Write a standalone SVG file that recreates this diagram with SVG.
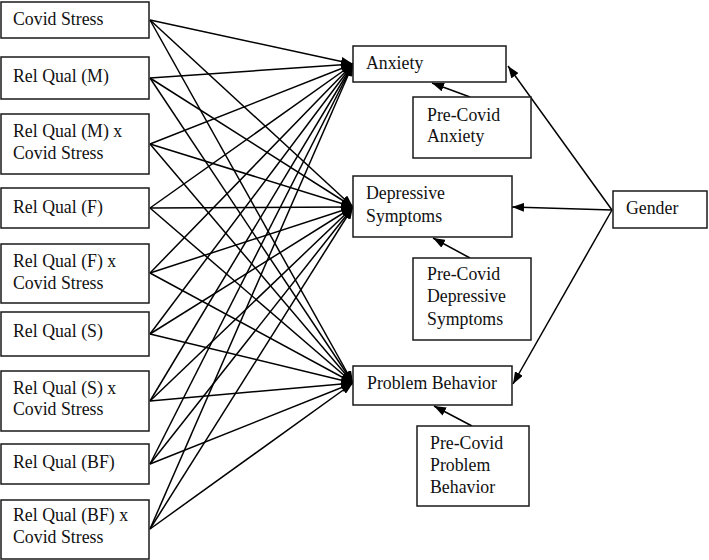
<svg xmlns="http://www.w3.org/2000/svg" width="709" height="560" viewBox="0 0 709 560">
<style>
.box{fill:#fff;stroke:#1a1a1a;stroke-width:1.5}
text{font-family:"Liberation Serif","Times New Roman",serif;font-size:17.8px;fill:#111}
.c line{stroke:#000;stroke-width:1.5;marker-end:url(#ah)}
</style>
<defs>
<marker id="ah" viewBox="0 0 12 9" refX="12" refY="4.5" markerWidth="12" markerHeight="9" markerUnits="userSpaceOnUse" orient="auto">
<path d="M0,0 L12,4.5 L0,9 Z" fill="#000"/>
</marker>
</defs>
<rect width="709" height="560" fill="#fff"/>
<g class="c" id="connectors">
<line x1="150" y1="20" x2="353" y2="64"/>
<line x1="150" y1="20" x2="353" y2="207"/>
<line x1="150" y1="20" x2="353" y2="383"/>
<line x1="150" y1="78" x2="353" y2="64"/>
<line x1="150" y1="78" x2="353" y2="207"/>
<line x1="150" y1="78" x2="353" y2="383"/>
<line x1="150" y1="144" x2="353" y2="64"/>
<line x1="150" y1="144" x2="353" y2="207"/>
<line x1="150" y1="144" x2="353" y2="383"/>
<line x1="150" y1="208" x2="353" y2="64"/>
<line x1="150" y1="208" x2="353" y2="207"/>
<line x1="150" y1="208" x2="353" y2="383"/>
<line x1="150" y1="273" x2="353" y2="64"/>
<line x1="150" y1="273" x2="353" y2="207"/>
<line x1="150" y1="273" x2="353" y2="383"/>
<line x1="150" y1="334" x2="353" y2="64"/>
<line x1="150" y1="334" x2="353" y2="207"/>
<line x1="150" y1="334" x2="353" y2="383"/>
<line x1="150" y1="401" x2="353" y2="64"/>
<line x1="150" y1="401" x2="353" y2="207"/>
<line x1="150" y1="401" x2="353" y2="383"/>
<line x1="150" y1="464" x2="353" y2="64"/>
<line x1="150" y1="464" x2="353" y2="207"/>
<line x1="150" y1="464" x2="353" y2="383"/>
<line x1="150" y1="529" x2="353" y2="64"/>
<line x1="150" y1="529" x2="353" y2="207"/>
<line x1="150" y1="529" x2="353" y2="383"/>
<line x1="470" y1="97" x2="432" y2="83"/>
<line x1="470" y1="258" x2="433" y2="238"/>
<line x1="472" y1="426" x2="434" y2="406"/>
<line x1="612" y1="210" x2="508" y2="66"/>
<line x1="612" y1="210" x2="512" y2="207"/>
<line x1="612" y1="210" x2="513" y2="384"/>
</g>
<g id="n1"><rect class="box" x="1" y="2" width="148" height="36"/><text x="13" y="25">Covid Stress</text></g>
<g id="n2"><rect class="box" x="1" y="57" width="148" height="42"/><text x="13" y="82">Rel Qual (M)</text></g>
<g id="n3"><rect class="box" x="1" y="114" width="148" height="60"/><text x="13" y="137">Rel Qual (M) x</text><text x="13" y="159">Covid Stress</text></g>
<g id="n4"><rect class="box" x="1" y="188" width="148" height="40"/><text x="13" y="213">Rel Qual (F)</text></g>
<g id="n5"><rect class="box" x="1" y="244" width="148" height="59"/><text x="13" y="267">Rel Qual (F) x</text><text x="13" y="289">Covid Stress</text></g>
<g id="n6"><rect class="box" x="1" y="312" width="148" height="44"/><text x="13" y="337">Rel Qual (S)</text></g>
<g id="n7"><rect class="box" x="1" y="371" width="148" height="60"/><text x="13" y="394">Rel Qual (S) x</text><text x="13" y="415">Covid Stress</text></g>
<g id="n8"><rect class="box" x="1" y="444" width="148" height="40"/><text x="13" y="468">Rel Qual (BF)</text></g>
<g id="n9"><rect class="box" x="1" y="500" width="148" height="59"/><text x="13" y="521">Rel Qual (BF) x</text><text x="13" y="543">Covid Stress</text></g>
<g id="anx"><rect class="box" x="353" y="46" width="153" height="36"/><text x="366" y="69">Anxiety</text></g>
<g id="preanx"><rect class="box" x="413" y="97" width="118" height="61"/><text x="427" y="121">Pre-Covid</text><text x="427" y="142">Anxiety</text></g>
<g id="dep"><rect class="box" x="353" y="176" width="159" height="61"/><text x="366" y="199">Depressive</text><text x="366" y="222">Symptoms</text></g>
<g id="predep"><rect class="box" x="413" y="258" width="118" height="82"/><text x="427" y="280">Pre-Covid</text><text x="427" y="302">Depressive</text><text x="427" y="325">Symptoms</text></g>
<g id="prob"><rect class="box" x="353" y="366" width="159" height="39"/><text x="367" y="389">Problem Behavior</text></g>
<g id="preprob"><rect class="box" x="417" y="426" width="112" height="80"/><text x="430" y="449">Pre-Covid</text><text x="430" y="471">Problem</text><text x="430" y="493">Behavior</text></g>
<g id="gender"><rect class="box" x="613" y="191" width="94" height="37"/><text x="626" y="214">Gender</text></g>
</svg>
